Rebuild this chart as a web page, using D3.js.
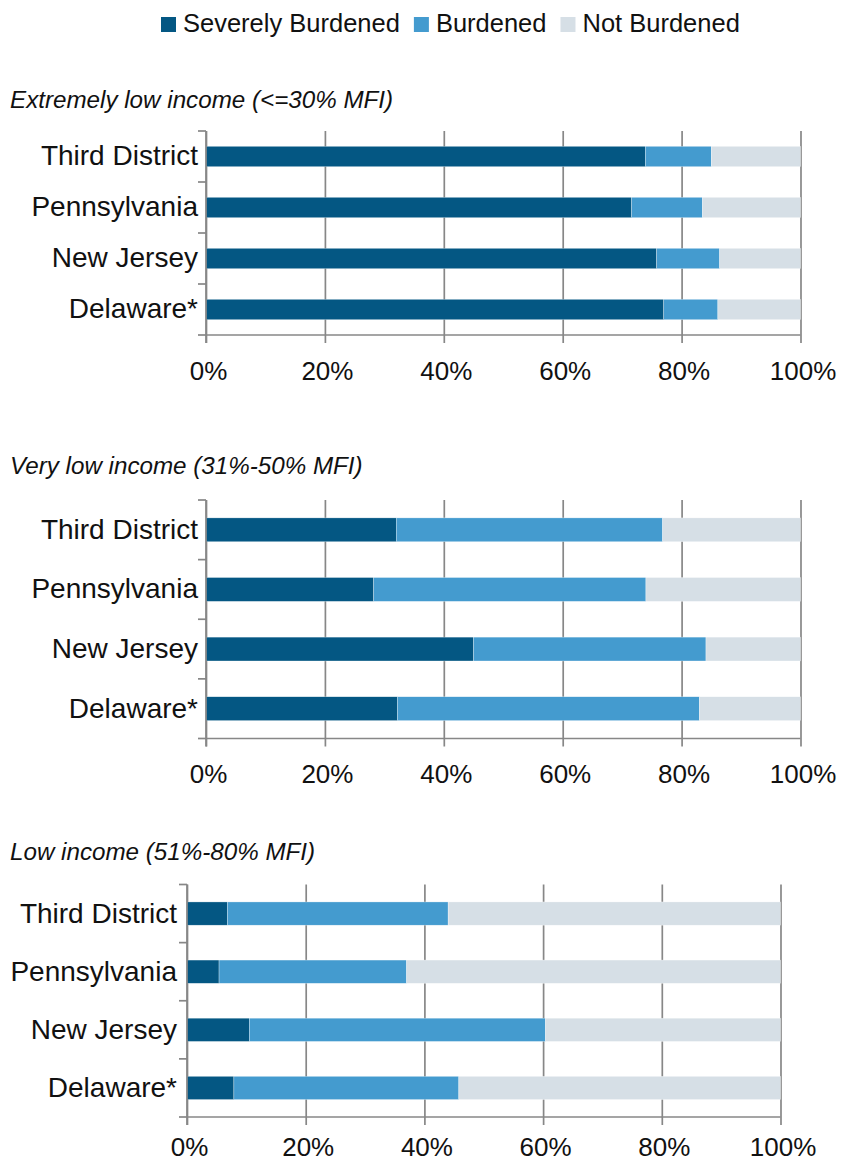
<!DOCTYPE html>
<html>
<head>
<meta charset="utf-8">
<script src="https://cdn.jsdelivr.net/npm/d3@7/dist/d3.min.js"></script>
<style>
  html, body { margin: 0; padding: 0; background: #fff; }
  svg { display: block; font-family: Arial, "Liberation Sans", sans-serif; }
</style>
</head>
<body>
<svg id="chart" width="842" height="1164"></svg>
<script>
// ---- Data ----
const categories = ["Third District", "Pennsylvania", "New Jersey", "Delaware*"];
const seriesNames = ["Severely Burdened", "Burdened", "Not Burdened"];
const xTicks = [0, 20, 40, 60, 80, 100];
const tickLabels = ["0%", "20%", "40%", "60%", "80%", "100%"];
const panelTitles = ["Extremely low income (<=30% MFI)", "Very low income (31%-50% MFI)", "Low income (51%-80% MFI)"];

const extremelyLowSevere   = [73.9, 71.6, 75.8, 77.0];
const extremelyLowBurdened = [11.1, 11.9, 10.6, 9.1];
const extremelyLowNot      = [15.0, 16.5, 13.6, 13.9];

const veryLowSevere   = [32.0, 28.2, 45.0, 32.2];
const veryLowBurdened = [44.8, 45.8, 39.1, 50.8];
const veryLowNot      = [23.2, 26.0, 15.9, 17.0];

const lowSevere   = [6.8, 5.4, 10.5, 7.9];
const lowBurdened = [37.2, 31.6, 49.9, 37.9];
const lowNot      = [56.0, 63.0, 39.6, 54.2];

// ---- Styling / layout ----
const colors = ["#045783", "#449bcf", "#d6dfe6"];
const gridColor = "#878787";
const tickFont = 26;

const panels = [
  { title: panelTitles[0], data: [extremelyLowSevere, extremelyLowBurdened, extremelyLowNot],
    x0: 206, x1: 800.5, top: 131, bottom: 335, titleY: 108, labelY: 380, catPad: 8 },
  { title: panelTitles[1], data: [veryLowSevere, veryLowBurdened, veryLowNot],
    x0: 206, x1: 800.5, top: 500, bottom: 738.5, titleY: 474, labelY: 783, catPad: 8 },
  { title: panelTitles[2], data: [lowSevere, lowBurdened, lowNot],
    x0: 187, x1: 780.5, top: 884.5, bottom: 1117, titleY: 860, labelY: 1156, catPad: 10 }
];

const svg = d3.select("#chart");

// ---- Legend ----
const legend = svg.append("g");
let lx = 161;
seriesNames.forEach((name, i) => {
  legend.append("rect").attr("x", lx).attr("y", 17).attr("width", 15).attr("height", 15).attr("fill", colors[i]);
  const t = legend.append("text").attr("x", lx + 22).attr("y", 32)
    .attr("font-size", 25.5).attr("fill", "#111").text(name);
  lx = lx + 22 + t.node().getComputedTextLength() + 14;
});

// ---- Panels ----
panels.forEach(p => {
  const g = svg.append("g");
  const h = p.bottom - p.top;

  const x = d3.scaleLinear().domain([0, 100]).range([p.x0, p.x1]);
  const y = d3.scaleBand().domain(categories).range([p.top, p.bottom]).paddingInner(0.6).paddingOuter(0.3);

  // title
  g.append("text").attr("x", 10).attr("y", p.titleY)
    .attr("font-size", 24.2).attr("font-style", "italic").attr("fill", "#111").text(p.title);

  // gridlines + x tick labels
  const pad = p.labelY - p.bottom - 8 - 0.71 * tickFont;
  const xAxis = d3.axisBottom(x).tickValues(xTicks)
    .tickFormat((d, i) => tickLabels[i])
    .tickSize(-(h + 8)).tickPadding(pad);
  const xa = g.append("g").attr("transform", `translate(0,${p.bottom + 8})`).call(xAxis);
  xa.select(".domain").remove();
  xa.selectAll(".tick line").attr("stroke", gridColor).attr("stroke-width", 1.7);
  xa.selectAll(".tick text").attr("font-size", tickFont).attr("fill", "#111")
    .attr("font-family", "Arial, 'Liberation Sans', sans-serif").attr("dx", 2);

  // stacked bars
  const stacked = categories.map((c, ci) => {
    let acc = 0;
    return p.data.map((series, si) => {
      const seg = { cat: c, s: si, a: acc, b: acc + series[ci] };
      acc += series[ci];
      return seg;
    });
  }).flat();

  g.append("g").selectAll("rect").data(stacked).join("rect")
    .attr("x", d => x(d.a))
    .attr("y", d => y(d.cat))
    .attr("width", d => x(d.b) - x(d.a))
    .attr("height", y.bandwidth())
    .attr("fill", d => colors[d.s])
    .attr("stroke", "#ffffff").attr("stroke-width", 0.5).attr("stroke-opacity", 0.6);

  // left axis line and boundary ticks
  const step = y.step();
  const boundaries = categories.map(c => y(c) - step * y.paddingInner() / 2).concat([p.bottom]);
  g.append("g").selectAll("line").data(boundaries).join("line")
    .attr("x1", p.x0 - 8).attr("x2", p.x0).attr("y1", d => d).attr("y2", d => d)
    .attr("stroke", gridColor).attr("stroke-width", 1.7);
  g.append("line").attr("x1", p.x0).attr("x2", p.x0).attr("y1", p.top).attr("y2", p.bottom + 8)
    .attr("stroke", gridColor).attr("stroke-width", 1.7);
  // bottom axis line
  g.append("line").attr("x1", p.x0).attr("x2", p.x1).attr("y1", p.bottom).attr("y2", p.bottom)
    .attr("stroke", gridColor).attr("stroke-width", 1.7);

  // category labels
  const yAxis = d3.axisLeft(y).tickSize(0).tickPadding(p.catPad);
  const ya = g.append("g").attr("transform", `translate(${p.x0},0)`).call(yAxis);
  ya.select(".domain").remove();
  ya.selectAll(".tick text").attr("font-size", 28).attr("fill", "#111")
    .attr("font-family", "Arial, 'Liberation Sans', sans-serif");
});
</script>
</body>
</html>
